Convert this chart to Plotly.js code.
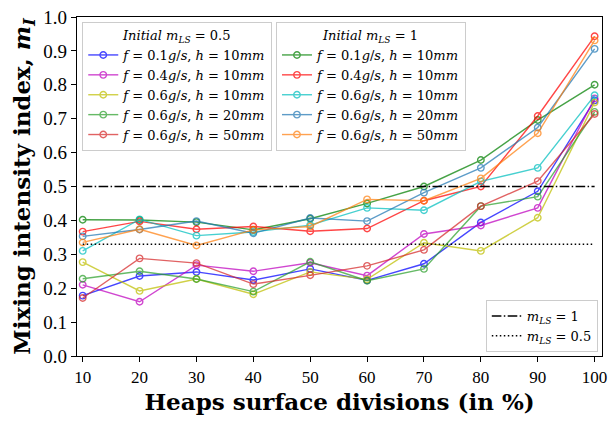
<!DOCTYPE html>
<html>
<head>
<meta charset="utf-8">
<script src="https://cdn.plot.ly/plotly-3.0.1.min.js"></script>
<style>html,body{margin:0;padding:0;background:#fff}#chart{width:608px;height:421px}</style>
</head>
<body>
<div id="chart"></div>
<script>
// Heaps surface divisions (in %)
const divisions = [10, 20, 30, 40, 50, 60, 70, 80, 90, 100];

// Initial m_LS = 0.5
const ls05_f01_h10 = [0.178, 0.236, 0.248, 0.224, 0.257, 0.223, 0.272, 0.394, 0.486, 0.754];
const ls05_f04_h10 = [0.210, 0.160, 0.268, 0.250, 0.275, 0.237, 0.360, 0.385, 0.437, 0.760];
const ls05_f06_h10 = [0.277, 0.192, 0.227, 0.182, 0.248, 0.226, 0.334, 0.310, 0.408, 0.748];
const ls05_f06_h20 = [0.228, 0.250, 0.227, 0.190, 0.278, 0.222, 0.257, 0.442, 0.470, 0.720];
const ls05_f06_h50 = [0.171, 0.288, 0.274, 0.212, 0.238, 0.266, 0.313, 0.442, 0.516, 0.714];

// Initial m_LS = 1
const ls1_f01_h10 = [0.402, 0.401, 0.395, 0.372, 0.405, 0.450, 0.500, 0.578, 0.696, 0.800];
const ls1_f04_h10 = [0.367, 0.397, 0.374, 0.382, 0.368, 0.376, 0.458, 0.500, 0.708, 0.943];
const ls1_f06_h10 = [0.310, 0.403, 0.355, 0.366, 0.386, 0.437, 0.430, 0.515, 0.555, 0.769];
const ls1_f06_h20 = [0.353, 0.373, 0.398, 0.362, 0.407, 0.398, 0.482, 0.555, 0.674, 0.906];
const ls1_f06_h50 = [0.335, 0.374, 0.326, 0.372, 0.382, 0.462, 0.458, 0.524, 0.657, 0.931];

// Reference levels
const refLabels = ['<i>m</i><sub><i>LS</i></sub> = 1', '<i>m</i><sub><i>LS</i></sub> = 0.5'];
const refValues = [0.5, 0.33];

const seriesLabels = [
  '<i>f</i> = 0.1<i>g</i>/<i>s</i>, <i>h</i> = 10<i>mm</i>',
  '<i>f</i> = 0.4<i>g</i>/<i>s</i>, <i>h</i> = 10<i>mm</i>',
  '<i>f</i> = 0.6<i>g</i>/<i>s</i>, <i>h</i> = 10<i>mm</i>',
  '<i>f</i> = 0.6<i>g</i>/<i>s</i>, <i>h</i> = 20<i>mm</i>',
  '<i>f</i> = 0.6<i>g</i>/<i>s</i>, <i>h</i> = 50<i>mm</i>'
];

const group05 = [ls05_f01_h10, ls05_f04_h10, ls05_f06_h10, ls05_f06_h20, ls05_f06_h50];
const group1 = [ls1_f01_h10, ls1_f04_h10, ls1_f06_h10, ls1_f06_h20, ls1_f06_h50];
const colors05 = ['#0000ff', '#bf00bf', '#bfbf00', '#2ca02c', '#d62728'];
const colors1 = ['#008000', '#ff0000', '#00bfbf', '#1f77b4', '#ff7f0e'];

const traces = [];
function addGroup(group, colors, legendId) {
  group.forEach((vals, i) => {
    traces.push({
      x: divisions, y: vals, type: 'scatter', mode: 'lines+markers',
      name: seriesLabels[i], legend: legendId, opacity: 0.72,
      line: {color: colors[i], width: 1.4},
      marker: {symbol: 'circle-open', size: 6.5, color: colors[i], line: {width: 1.4}}
    });
  });
}
addGroup(group05, colors05, 'legend');
addGroup(group1, colors1, 'legend2');

const dashes = ['9.6px,2.4px,1.5px,2.4px', '1.5px,2.5px'];
refValues.forEach((v, i) => {
  traces.push({
    x: [divisions[0], divisions[divisions.length - 1]], y: [v, v],
    type: 'scatter', mode: 'lines', name: refLabels[i], legend: 'legend3',
    line: {color: '#000', width: 1.5, dash: dashes[i]}
  });
});

const font = {family: 'Liberation Serif, DejaVu Serif, serif', color: '#000'};
const legFamily = 'DejaVu Serif, Liberation Serif, serif';
const legendBase = {
  bgcolor: 'rgba(255,255,255,0.85)', bordercolor: '#cccccc', borderwidth: 1,
  font: {family: legFamily, size: 13, color: '#000'},
  itemwidth: 30, tracegroupgap: 0
};

const layout = {
  width: 608, height: 421,
  margin: {l: 77, r: 6, t: 17, b: 65},
  paper_bgcolor: '#fff', plot_bgcolor: '#fff',
  font: font,
  showlegend: true,
  xaxis: {
    range: [9.0, 101.3], tickvals: divisions, ticktext: divisions.map(String),
    ticklabeloverflow: 'allow',
    showgrid: false, zeroline: false, showline: true, mirror: true,
    linecolor: '#000', linewidth: 1.2, ticks: 'outside', ticklen: 5, tickcolor: '#000',
    tickfont: {family: font.family, size: 17, color: '#000'},
    title: {text: '<b>Heaps surface divisions (in %)</b>', font: {family: legFamily, size: 23, color: '#000'}, standoff: 8}
  },
  yaxis: {
    range: [0, 1], dtick: 0.1, tickformat: '.1f',
    showgrid: false, zeroline: false, showline: true, mirror: true,
    linecolor: '#000', linewidth: 1.2, ticks: 'outside', ticklen: 5, tickcolor: '#000',
    tickfont: {family: font.family, size: 19, color: '#000'},
    title: {text: '<b>Mixing intensity index, <i>m</i><sub><i>I</i></sub></b>', font: {family: legFamily, size: 23, color: '#000'}, standoff: 6}
  },
  legend: Object.assign({}, legendBase, {
    x: 0.01, y: 0.985, xanchor: 'left', yanchor: 'top',
    title: {text: '<i>Initial m</i><sub><i>LS</i></sub> = 0.5', side: 'top center', font: {family: legFamily, size: 13, color: '#000'}}
  }),
  legend2: Object.assign({}, legendBase, {
    x: 0.379, y: 0.985, xanchor: 'left', yanchor: 'top',
    title: {text: '<i>Initial m</i><sub><i>LS</i></sub> = 1', side: 'top center', font: {family: legFamily, size: 13, color: '#000'}}
  }),
  legend3: Object.assign({}, legendBase, {
    x: 0.992, y: 0.012, xanchor: 'right', yanchor: 'bottom'
  })
};

Plotly.newPlot('chart', traces, layout, {displayModeBar: false, staticPlot: true});
</script>
</body>
</html>
